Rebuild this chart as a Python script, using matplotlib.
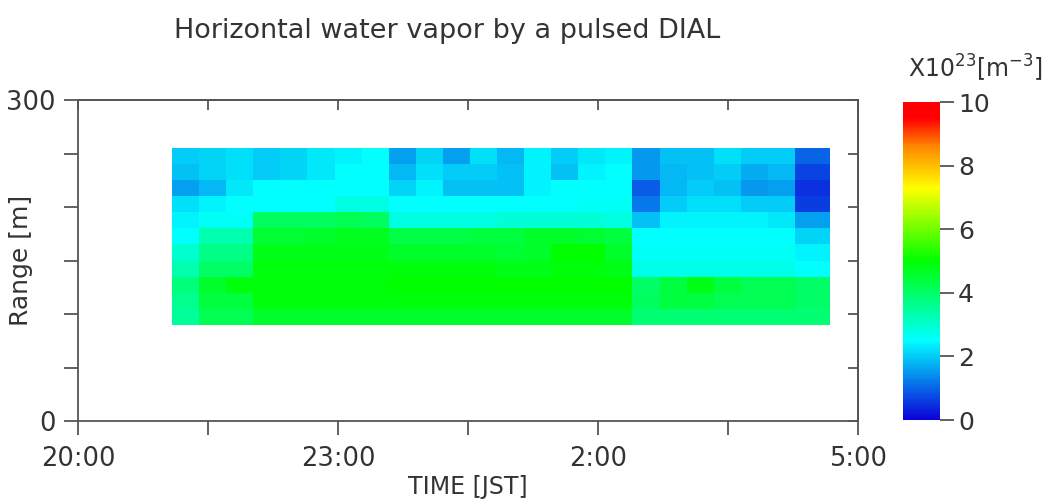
import numpy as np
import matplotlib
matplotlib.use("Agg")
import matplotlib.pyplot as plt
from matplotlib.colors import LinearSegmentedColormap

# ---------------- data ----------------
title = "Horizontal water vapor by a pulsed DIAL"
xlabel = "TIME [JST]"
ylabel = "Range [m]"
cbar_label = r"X10$^{23}$[m$^{-3}$]"

# time in hours after 20:00
x_tick_pos = [0, 3, 6, 9]
x_tick_labels = ["20:00", "23:00", "2:00", "5:00"]
x_minor_pos = [1.5, 4.5, 7.5]
y_tick_pos = [0, 300]
y_minor_pos = [50, 100, 150, 200, 250]
cbar_ticks = [0, 2, 4, 6, 8, 10]

t_start = 1.085          # 21:05
t_step = 0.3125          # bin width [h]
t_end = 8.677            # 4:41
range_edges = [90, 105, 120, 135, 150, 165, 180, 195, 210, 225, 240, 255]

# water vapour density [x10^23 m^-3], rows listed from top (240-255 m) to bottom (90-105 m)
r0 = [2.0, 2.1, 2.2, 2.0, 2.1, 2.3, 2.4, 2.5, 1.6, 2.1, 1.6, 2.2, 1.8, 2.4, 2.0, 2.3, 2.4, 1.5, 1.9, 1.9, 2.2, 2.0, 2.0, 1.0]
r1 = [1.9, 2.1, 2.2, 2.0, 2.1, 2.3, 2.5, 2.5, 1.8, 2.2, 2.0, 2.0, 1.9, 2.4, 1.9, 2.4, 2.5, 1.5, 1.8, 1.9, 2.0, 1.7, 1.8, 0.7]
r2 = [1.6, 1.8, 2.3, 2.5, 2.5, 2.5, 2.5, 2.5, 2.1, 2.4, 1.9, 1.9, 1.9, 2.4, 2.5, 2.5, 2.5, 0.9, 1.8, 2.0, 1.9, 1.5, 1.6, 0.5]
r3 = [2.2, 2.4, 2.5, 2.5, 2.5, 2.5, 2.8, 2.8, 2.5, 2.5, 2.5, 2.5, 2.5, 2.5, 2.5, 2.6, 2.6, 1.2, 2.0, 2.2, 2.2, 2.0, 2.0, 0.6]
r4 = [2.4, 2.6, 2.6, 4.1, 4.1, 4.1, 4.2, 4.1, 2.8, 2.8, 2.8, 2.8, 2.9, 2.9, 2.9, 2.9, 2.8, 1.9, 2.4, 2.4, 2.4, 2.4, 2.3, 1.6]
r5 = [2.5, 3.3, 3.3, 4.5, 4.5, 4.6, 4.7, 4.7, 4.3, 4.3, 4.3, 4.4, 4.4, 4.6, 4.6, 4.5, 4.4, 2.5, 2.5, 2.5, 2.5, 2.5, 2.5, 2.1]
r6 = [3.0, 3.7, 3.7, 4.8, 4.8, 4.8, 4.8, 4.8, 4.6, 4.6, 4.6, 4.6, 4.5, 4.6, 5.0, 5.0, 4.6, 2.6, 2.6, 2.6, 2.6, 2.6, 2.6, 2.4]
r7 = [3.3, 4.0, 4.0, 4.9, 4.9, 4.9, 4.9, 4.9, 4.9, 4.9, 4.9, 4.9, 4.8, 4.8, 4.9, 4.9, 4.8, 2.7, 2.7, 2.7, 2.7, 2.7, 2.7, 2.5]
r8 = [3.8, 4.6, 4.9, 4.9, 4.9, 4.9, 4.9, 4.9, 5.0, 5.0, 5.0, 5.0, 5.0, 5.0, 5.0, 5.0, 5.0, 4.0, 4.4, 4.8, 4.4, 4.2, 4.2, 4.0]
r9 = [3.6, 4.4, 4.4, 4.9, 4.9, 4.9, 4.9, 4.9, 4.9, 4.9, 4.9, 4.9, 4.9, 4.9, 4.9, 4.9, 4.9, 4.1, 4.4, 4.4, 4.2, 4.2, 4.2, 4.0]
r10 = [3.5, 4.2, 4.2, 4.6, 4.6, 4.6, 4.6, 4.6, 4.6, 4.6, 4.6, 4.6, 4.6, 4.6, 4.6, 4.6, 4.6, 3.9, 3.9, 3.9, 3.9, 3.9, 3.9, 3.9]

rows_top_to_bottom = [r0, r1, r2, r3, r4, r5, r6, r7, r8, r9, r10]

# ---------------- figure ----------------
W, H = 1056, 499
fig = plt.figure(figsize=(W / 100, H / 100), dpi=100)
plt.rcParams['font.family'] = ['DejaVu Sans']

axis_col = "#555555"
text_col = "#333333"

ax = fig.add_axes([78 / W, 1 - 421 / H, 780 / W, 321 / H])
cax = fig.add_axes([903 / W, 1 - 420 / H, 37 / W, 318 / H])

cmap = LinearSegmentedColormap.from_list(
    "rainbow_dial",
    [(0.0, "#0c00d8"), (0.25, "#00ffff"), (0.5, "#00ff00"),
     (0.73, "#ffff00"), (0.86, "#ff8800"), (0.95, "#ff0000"), (1.0, "#ff0000")])

n_cols = len(r0)
t_edges = list(t_start + t_step * np.arange(n_cols)) + [t_end]
Z = np.array(rows_top_to_bottom[::-1])

mesh = ax.pcolormesh(t_edges, range_edges, Z, cmap=cmap, vmin=0, vmax=10,
                     shading="flat", edgecolors="none", antialiased=False)

ax.set_xlim(0, 9)
ax.set_ylim(0, 300)

for sp in ax.spines.values():
    sp.set_color(axis_col)
    sp.set_linewidth(1.3)

ax.set_xticks(x_tick_pos)
ax.set_xticklabels(x_tick_labels)
ax.set_xticks(x_minor_pos, minor=True)
ax.set_yticks(y_tick_pos)
ax.set_yticks(y_minor_pos, minor=True)

ax.tick_params(axis="both", which="both", direction="out", color=axis_col,
               width=1.3, labelcolor=text_col, labelsize=18.5)
ax.tick_params(axis="both", which="major", length=10)
ax.tick_params(axis="both", which="minor", length=10)
ax.tick_params(axis="x", pad=8)
ax.tick_params(axis="y", pad=6)

# inward ticks on top and right
secx = ax.secondary_xaxis("top")
secx.set_xticks(x_tick_pos + x_minor_pos)
secx.tick_params(direction="in", length=7, width=1.3, color=axis_col, labeltop=False)
secx.spines["top"].set_color(axis_col)
secx.spines["top"].set_linewidth(1.3)
secy = ax.secondary_yaxis("right")
secy.set_yticks(y_tick_pos + y_minor_pos)
secy.tick_params(direction="in", length=7, width=1.3, color=axis_col, labelright=False)
secy.spines["right"].set_color(axis_col)
secy.spines["right"].set_linewidth(1.3)

ax.set_xlabel(xlabel, fontsize=17, color=text_col, labelpad=2)
ax.set_ylabel(ylabel, fontsize=18, color=text_col)
ax.yaxis.set_label_coords((33 - 78) / 780, 0.5)

cb = fig.colorbar(mesh, cax=cax, ticks=cbar_ticks)
cb.outline.set_visible(False)
cb.ax.tick_params(direction="out", length=10, width=1.3, color=axis_col,
                  labelcolor=text_col, labelsize=18, pad=3)

fig.text(975 / W, 1 - 68 / H, cbar_label, fontsize=17, color=text_col,
         ha="center", va="center")

# title, sized to the reference width
t = fig.text(447 / W, 1 - 38 / H, title, fontsize=17, color=text_col,
             ha="center", va="baseline")
fig.canvas.draw()
bb = t.get_window_extent(fig.canvas.get_renderer())
t.set_fontsize(17 * 545 / bb.width)

fig.savefig("out.png", dpi=100)
